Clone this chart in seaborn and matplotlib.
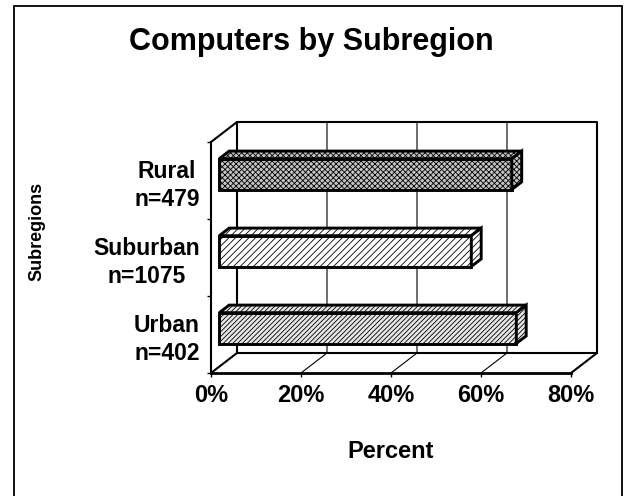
import numpy as np
import pandas as pd
import matplotlib
matplotlib.use("Agg")
import matplotlib.pyplot as plt
import seaborn as sns
from matplotlib.patches import Polygon, Rectangle

# data
regions = ["Rural", "Suburban", "Urban"]
counts = [479, 1075, 402]
percent = [65, 56, 66]
hatches = ["xxxxxx", "/////", "///////"]
faces = ["#c4c4c4", "white", "#e6e6e6"]
xticks = [0, 20, 40, 60, 80]

sns.set_theme(style="white")
plt.rcParams["font.family"] = ["Liberation Sans", "DejaVu Sans"]
plt.rcParams["font.weight"] = "bold"
plt.rcParams["hatch.linewidth"] = 0.6
for key in ["text.color", "axes.labelcolor", "xtick.color", "ytick.color"]:
    plt.rcParams[key] = "black"

df = pd.DataFrame({
    "Subregion": [f"{r}\nn={n}" for r, n in zip(regions, counts)],
    "Percent": percent,
})

fig = plt.figure(figsize=(6.24, 4.96), dpi=100)
ax = fig.add_axes([211 / 624, 1 - 373 / 496, 360 / 624, 231 / 496])

sns.barplot(data=df, x="Percent", y="Subregion", orient="h", width=0.4,
            color="white", saturation=1, edgecolor="black", linewidth=2.1,
            errorbar=None, ax=ax, zorder=3)
ax.set_xlim(0, 80)
ax.set_ylim(2.5, -0.5)

# depth of the fake 3d box, in data units
DX = 80 * 26 / 360
DY = -3 * 20 / 231
f0, f1 = 0.32, 0.70

# back wall, floor and left wall edges
wall = dict(color="black", lw=1.5, clip_on=False, zorder=1)
ax.plot([DX, DX, 80 + DX, 80 + DX], [2.5 + DY, -0.5 + DY, -0.5 + DY, 2.5 + DY], **wall)
ax.plot([DX, 80 + DX], [2.5 + DY, 2.5 + DY], **wall)
for x, y in [(0, -0.5), (0, 2.5), (80, 2.5)]:
    ax.plot([x, x + DX], [y, y + DY], **wall)
for x in xticks[1:-1]:
    ax.plot([x, x + DX, x + DX], [2.5, 2.5 + DY, -0.5 + DY],
            color="black", lw=0.8, clip_on=False, zorder=1)

# turn the flat bars into boxes
ddx, ddy = (f1 - f0) * DX, (f1 - f0) * DY
for patch, h, fc in zip(list(ax.patches), hatches, faces):
    patch.set_x(patch.get_x() + f0 * DX)
    patch.set_y(patch.get_y() + f0 * DY)
    patch.set_hatch(h)
    patch.set_facecolor(fc)
    x0, yt = patch.get_x(), patch.get_y()
    x1, yb = x0 + patch.get_width(), yt + patch.get_height()
    top = [(x0, yt), (x1, yt), (x1 + ddx, yt + ddy), (x0 + ddx, yt + ddy)]
    side = [(x1, yt), (x1, yb), (x1 + ddx, yb + ddy), (x1 + ddx, yt + ddy)]
    for pts in (top, side):
        ax.add_patch(Polygon(pts, closed=True, facecolor=fc, edgecolor="black",
                             lw=2.1, hatch=h, zorder=3, clip_on=False))

for s in ["top", "right"]:
    ax.spines[s].set_visible(False)
ax.spines["left"].set_color("black")
ax.spines["left"].set_linewidth(1.5)
ax.spines["bottom"].set_color("black")
ax.spines["bottom"].set_linewidth(2)

ax.set_xticks(xticks, [f"{t}%" for t in xticks])
ax.set_yticks([-0.5, 0.5, 1.5, 2.5], minor=True)
ax.tick_params(axis="x", bottom=True, length=3, width=1, color="black",
               labelsize=17, pad=5)
ax.tick_params(axis="y", which="major", left=True, length=0, labelsize=16.5, pad=8)
ax.tick_params(axis="y", which="minor", left=True, length=3, width=1, color="black")
for lbl in ax.get_yticklabels():
    lbl.set_multialignment("center")
    lbl.set_linespacing(1.25)

ax.set_ylabel("")
ax.set_xlabel("Percent", fontsize=17, fontweight="bold", labelpad=24)
fig.text(37 / 624, 1 - 231 / 496, "Subregions", rotation=90, ha="center", va="center",
         fontsize=13, fontweight="bold")
fig.suptitle("Computers by Subregion", x=311 / 624, y=1 - 27 / 496, va="top",
             fontsize=22, fontweight="bold")

fig.add_artist(Rectangle((14 / 624, -0.05), 608 / 624, 490 / 496 + 0.05,
                         transform=fig.transFigure, fill=False, edgecolor="black", lw=1.3))

fig.savefig("out.png", dpi=100)
